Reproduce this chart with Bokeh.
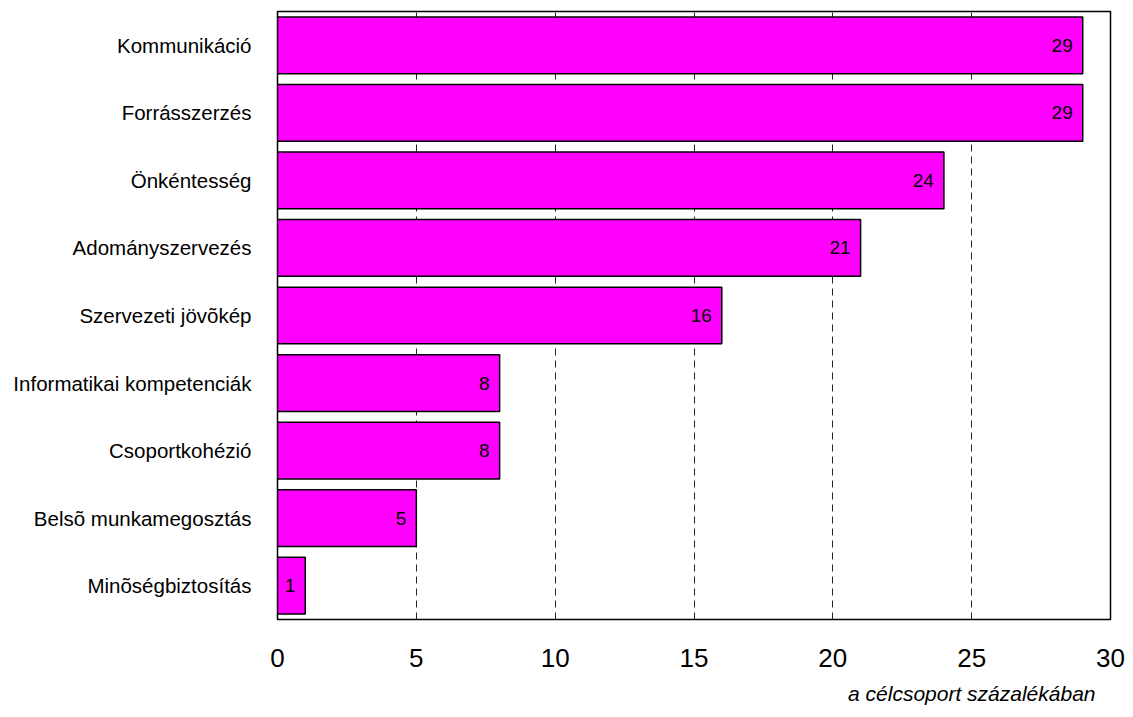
from bokeh.plotting import figure
from bokeh.models import ColumnDataSource, FactorRange, Range1d, FixedTicker, Title
from bokeh.embed import file_html
from bokeh.resources import INLINE
from bokeh.core.properties import value

categories = ["Kommunikáció", "Forrásszerzés", "Önkéntesség", "Adományszervezés",
              "Szervezeti jövõkép", "Informatikai kompetenciák", "Csoportkohézió",
              "Belsõ munkamegosztás", "Minõségbiztosítás"]
values = [29, 29, 24, 21, 16, 8, 8, 5, 1]
x_ticks = [0, 5, 10, 15, 20, 25, 30]
x_title = "a célcsoport százalékában"

FONT = "Liberation Sans"

src = ColumnDataSource(dict(cat=categories, val=values, lab=[str(v) for v in values]))

p = figure(width=1133, height=717, output_backend="svg", toolbar_location=None,
           y_range=FactorRange(factors=list(reversed(categories)), range_padding=0),
           x_range=Range1d(0, 30),
           min_border_left=277, min_border_right=23, min_border_top=11, min_border_bottom=98)

p.hbar(y="cat", right="val", left=0, height=0.84, source=src,
       fill_color="#FF00FF", line_color="black", line_width=1.5)
p.text(x="val", y="cat", text="lab", source=src, text_align="right",
       text_baseline="middle", x_offset=-10, text_font=value(FONT),
       text_font_size="19px", text_color="black")

p.outline_line_color = "black"
p.outline_line_width = 1.5
p.background_fill_color = "white"
p.border_fill_color = "white"

p.ygrid.grid_line_color = None
p.xgrid.ticker = FixedTicker(ticks=[5, 10, 15, 20, 25])
p.xgrid.grid_line_color = "#222222"
p.xgrid.grid_line_dash = "7 5"
p.xgrid.grid_line_width = 1

p.xaxis.ticker = FixedTicker(ticks=x_ticks)
p.xaxis.axis_line_color = None
p.xaxis.major_tick_line_color = None
p.xaxis.minor_tick_line_color = None
p.xaxis.major_label_text_font = FONT
p.xaxis.major_label_text_font_size = "26px"
p.xaxis.major_label_text_color = "black"
p.xaxis.major_label_standoff = 23

p.yaxis.axis_line_color = None
p.yaxis.major_tick_line_color = None
p.yaxis.minor_tick_line_color = None
p.yaxis.major_label_text_font = FONT
p.yaxis.major_label_text_font_size = "20.5px"
p.yaxis.major_label_text_color = "black"
p.yaxis.major_label_standoff = 20

t = Title(text=x_title, align="right", text_font=FONT, text_font_style="italic",
          text_font_size="21px", text_color="black", offset=15, standoff=21)
p.add_layout(t, "below")

open("out.html", "w").write(file_html(p, INLINE))
